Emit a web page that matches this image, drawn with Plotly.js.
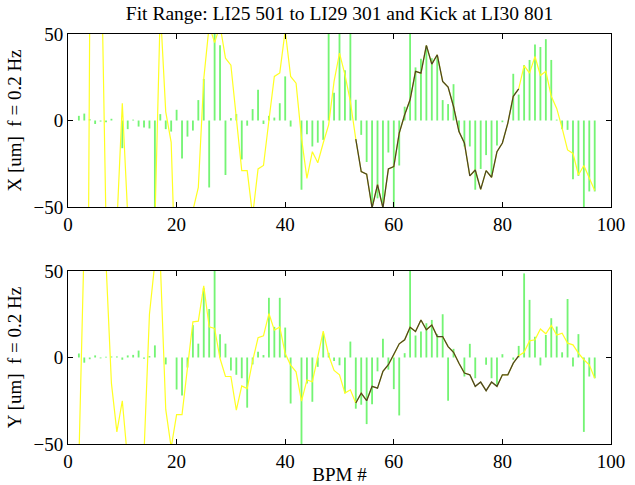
<!DOCTYPE html>
<html>
<head>
<meta charset="utf-8">
<script src="https://cdn.plot.ly/plotly-3.0.1.min.js"></script>
<style>html,body{margin:0;padding:0;background:#fff;}#chart{width:635px;height:485px;}</style>
</head>
<body>
<div id="chart"></div>
<script>
// BPM index
const bpm = Array.from({length: 97}, (_, i) => i + 1);
const fitStart = 53, fitEnd = 83;

// X plane: measured difference orbit (stems)
const xMeas = [0,2.7,4,0.8,-2,-0.6,-1,1,0,-16,
  -5,0.5,-3.5,-4,-4.6,-52,3.7,-5,-6.4,6.2,
  -22,-9.3,-5.8,11.8,24,-38.7,52,43.5,-31.5,1.4,
  3.7,-22.5,-3,6.6,17.8,-2,2.7,1.7,10,25.5,
  -3.5,0,-40,-8,-15,-12.8,-11.2,52,16,52,
  29,52,12,-8.3,-24,-52,-45,-52,-18.5,-52,
  -26,8,52,30.7,35.7,43,36,37,11.8,9.5,
  21,-6.4,-15,-15,-40,-28,-20,-32.4,-14.5,-1,
  0,27,15,32,35,44,42.5,47,35,0.5,
  -5,-5.4,-34,-32,-52,-41,-41];
// X plane: model trajectory
const xFit = [-600,-550,-500,60,200,120,-60,-150,-60,10,
  -55,-150,-200,-150,-100,-60,65,5,-12.6,-112,
  -150,-100,-52,-38.7,24,55,45,55,36,32,
  2,-29,-29,-55,-28,-26,0,25.5,27.5,52,
  25.5,21.6,-10,-33.4,-18,-24.4,-13,-2.5,22.6,39,
  26.5,11,-10.8,-29.5,-31,-50.5,-37,-50.5,-28,-26.6,
  -7.3,3.3,12,28.4,27.4,43.4,32.6,38,22.6,19.3,
  8.1,-6.4,-13,-32,-28.6,-39.8,-29,-32.8,-18,-13,
  -1.5,14,18.3,31.7,27.4,37,26,28.4,14,7,
  -4.4,-17,-19,-31.5,-26,-33.4,-40.5];

// Y plane: measured difference orbit (stems)
const yMeas = [0,2.3,-3,-1,1.2,-0.5,0.4,0.6,0.6,-1.3,
  1.2,1.5,4,-0.8,0.8,7,0,-4,0,-18.5,
  -22,-5.8,18.7,8,40,28,52,13.5,8,-7.5,
  -10,-12,-29,-4,3.3,1.4,34.5,17.7,34.5,17.3,
  -26.6,0,-52,-15,-25.6,-5.4,13.9,2.7,-2,-4.5,
  -20.6,9.2,-29.6,-27.3,-38.5,-27,-8,10.8,-7,-18.3,
  -33.5,2.5,52,12.7,15,19.8,21.7,13.5,25,-25,
  5,0,-11,7.9,-12,0,-4.2,-12,-15.8,1.9,
  0,-1.3,6.7,48.6,33.3,12,-4.6,13,22.7,17.9,
  3,33.8,-5.2,13.5,-43,-11,-12];
// Y plane: model trajectory
const yFit = [-300,-60,70,200,250,150,55,-15,-43,-25,
  -60,-150,-150,-55,25,55,55,-30,-52,-33,
  -33,-6,20.6,21,41.4,17.7,16.8,-0.6,-11,-11,
  -30.4,-16.4,-18,-2,11.4,12.5,25.4,15.8,17.7,2.3,
  -4.4,-8.3,-25.2,-13,-14,0.4,15.2,1.3,-7.5,-10,
  -20.6,-18.7,-26.3,-20.6,-25,-16.7,-17.7,-8,-4.2,1.5,
  7.9,10.2,17.5,15,21.7,16,18.8,12.1,12.1,6.3,
  3,-3.3,-9,-10,-16.7,-14.2,-19.2,-14.2,-16.7,-10,
  -10,-3.3,1,3,9.6,10.2,16.5,13.7,18.5,13,
  14,8.3,7.3,2.5,-1.3,-4.2,-12];

const xTicks = [0, 20, 40, 60, 80, 100];
const yTicks = [-50, 0, 50];

const titleText = 'Fit Range: LI25 501 to LI29 301 and Kick at LI30 801';
const xLabel = 'BPM #';
const yLabelTop = 'X [um]  f = 0.2 Hz';
const yLabelBot = 'Y [um]  f = 0.2 Hz';

const inFit = (i) => bpm[i] >= fitStart && bpm[i] <= fitEnd;
const fitIdx = bpm.map((b, i) => i).filter(inFit);

const green = '#74f474', yellow = '#ffff22', dark = '#4a4428';
const fam = 'Liberation Serif, Times New Roman, serif';
const tickFont = {family: fam, color: '#000', size: 19};
const titleFont = {family: fam, color: '#000', size: 19.5};
const axTitleFont = {family: fam, color: '#000', size: 19};

function planeTraces(meas, fit, xa, ya) {
  return [
    {type: 'bar', x: bpm, y: meas, xaxis: xa, yaxis: ya, width: 0.34,
     marker: {color: green, line: {width: 0}}, hoverinfo: 'skip'},
    {type: 'scatter', mode: 'lines', x: bpm, y: fit, xaxis: xa, yaxis: ya,
     line: {color: yellow, width: 1.2}, hoverinfo: 'skip'},
    {type: 'scatter', mode: 'lines', x: fitIdx.map(i => bpm[i]), y: fitIdx.map(i => fit[i]),
     xaxis: xa, yaxis: ya, line: {color: dark, width: 1.3}, hoverinfo: 'skip'}
  ];
}

const data = [].concat(planeTraces(xMeas, xFit, 'x', 'y'), planeTraces(yMeas, yFit, 'x2', 'y2'));

const axBase = {
  showline: true, mirror: 'ticks', linecolor: '#000', linewidth: 1,
  ticks: 'inside', ticklen: 5, tickcolor: '#000', tickwidth: 1,
  showgrid: false, zeroline: false, tickfont: tickFont
};

const layout = {
  width: 635, height: 485,
  margin: {l: 68, r: 24, t: 34, b: 41},
  paper_bgcolor: '#fff', plot_bgcolor: '#fff',
  showlegend: false, barmode: 'overlay',
  font: tickFont,
  title: {text: titleText, font: titleFont, x: 0.5, xref: 'paper', y: 0.972, yref: 'container', yanchor: 'middle'},
  xaxis: Object.assign({}, axBase, {domain: [0, 1], range: [0, 100], tickvals: xTicks, anchor: 'y'}),
  yaxis: Object.assign({}, axBase, {domain: [0.578, 1], range: [-50, 50], tickvals: yTicks, anchor: 'x',
    title: {text: yLabelTop, font: axTitleFont, standoff: 6}}),
  xaxis2: Object.assign({}, axBase, {domain: [0, 1], range: [0, 100], tickvals: xTicks, anchor: 'y2',
    title: {text: xLabel, font: axTitleFont, standoff: 0}}),
  yaxis2: Object.assign({}, axBase, {domain: [0, 0.422], range: [-50, 50], tickvals: yTicks, anchor: 'x2',
    title: {text: yLabelBot, font: axTitleFont, standoff: 6}})
};

Plotly.newPlot('chart', data, layout, {staticPlot: true, displayModeBar: false});
</script>
</body>
</html>
